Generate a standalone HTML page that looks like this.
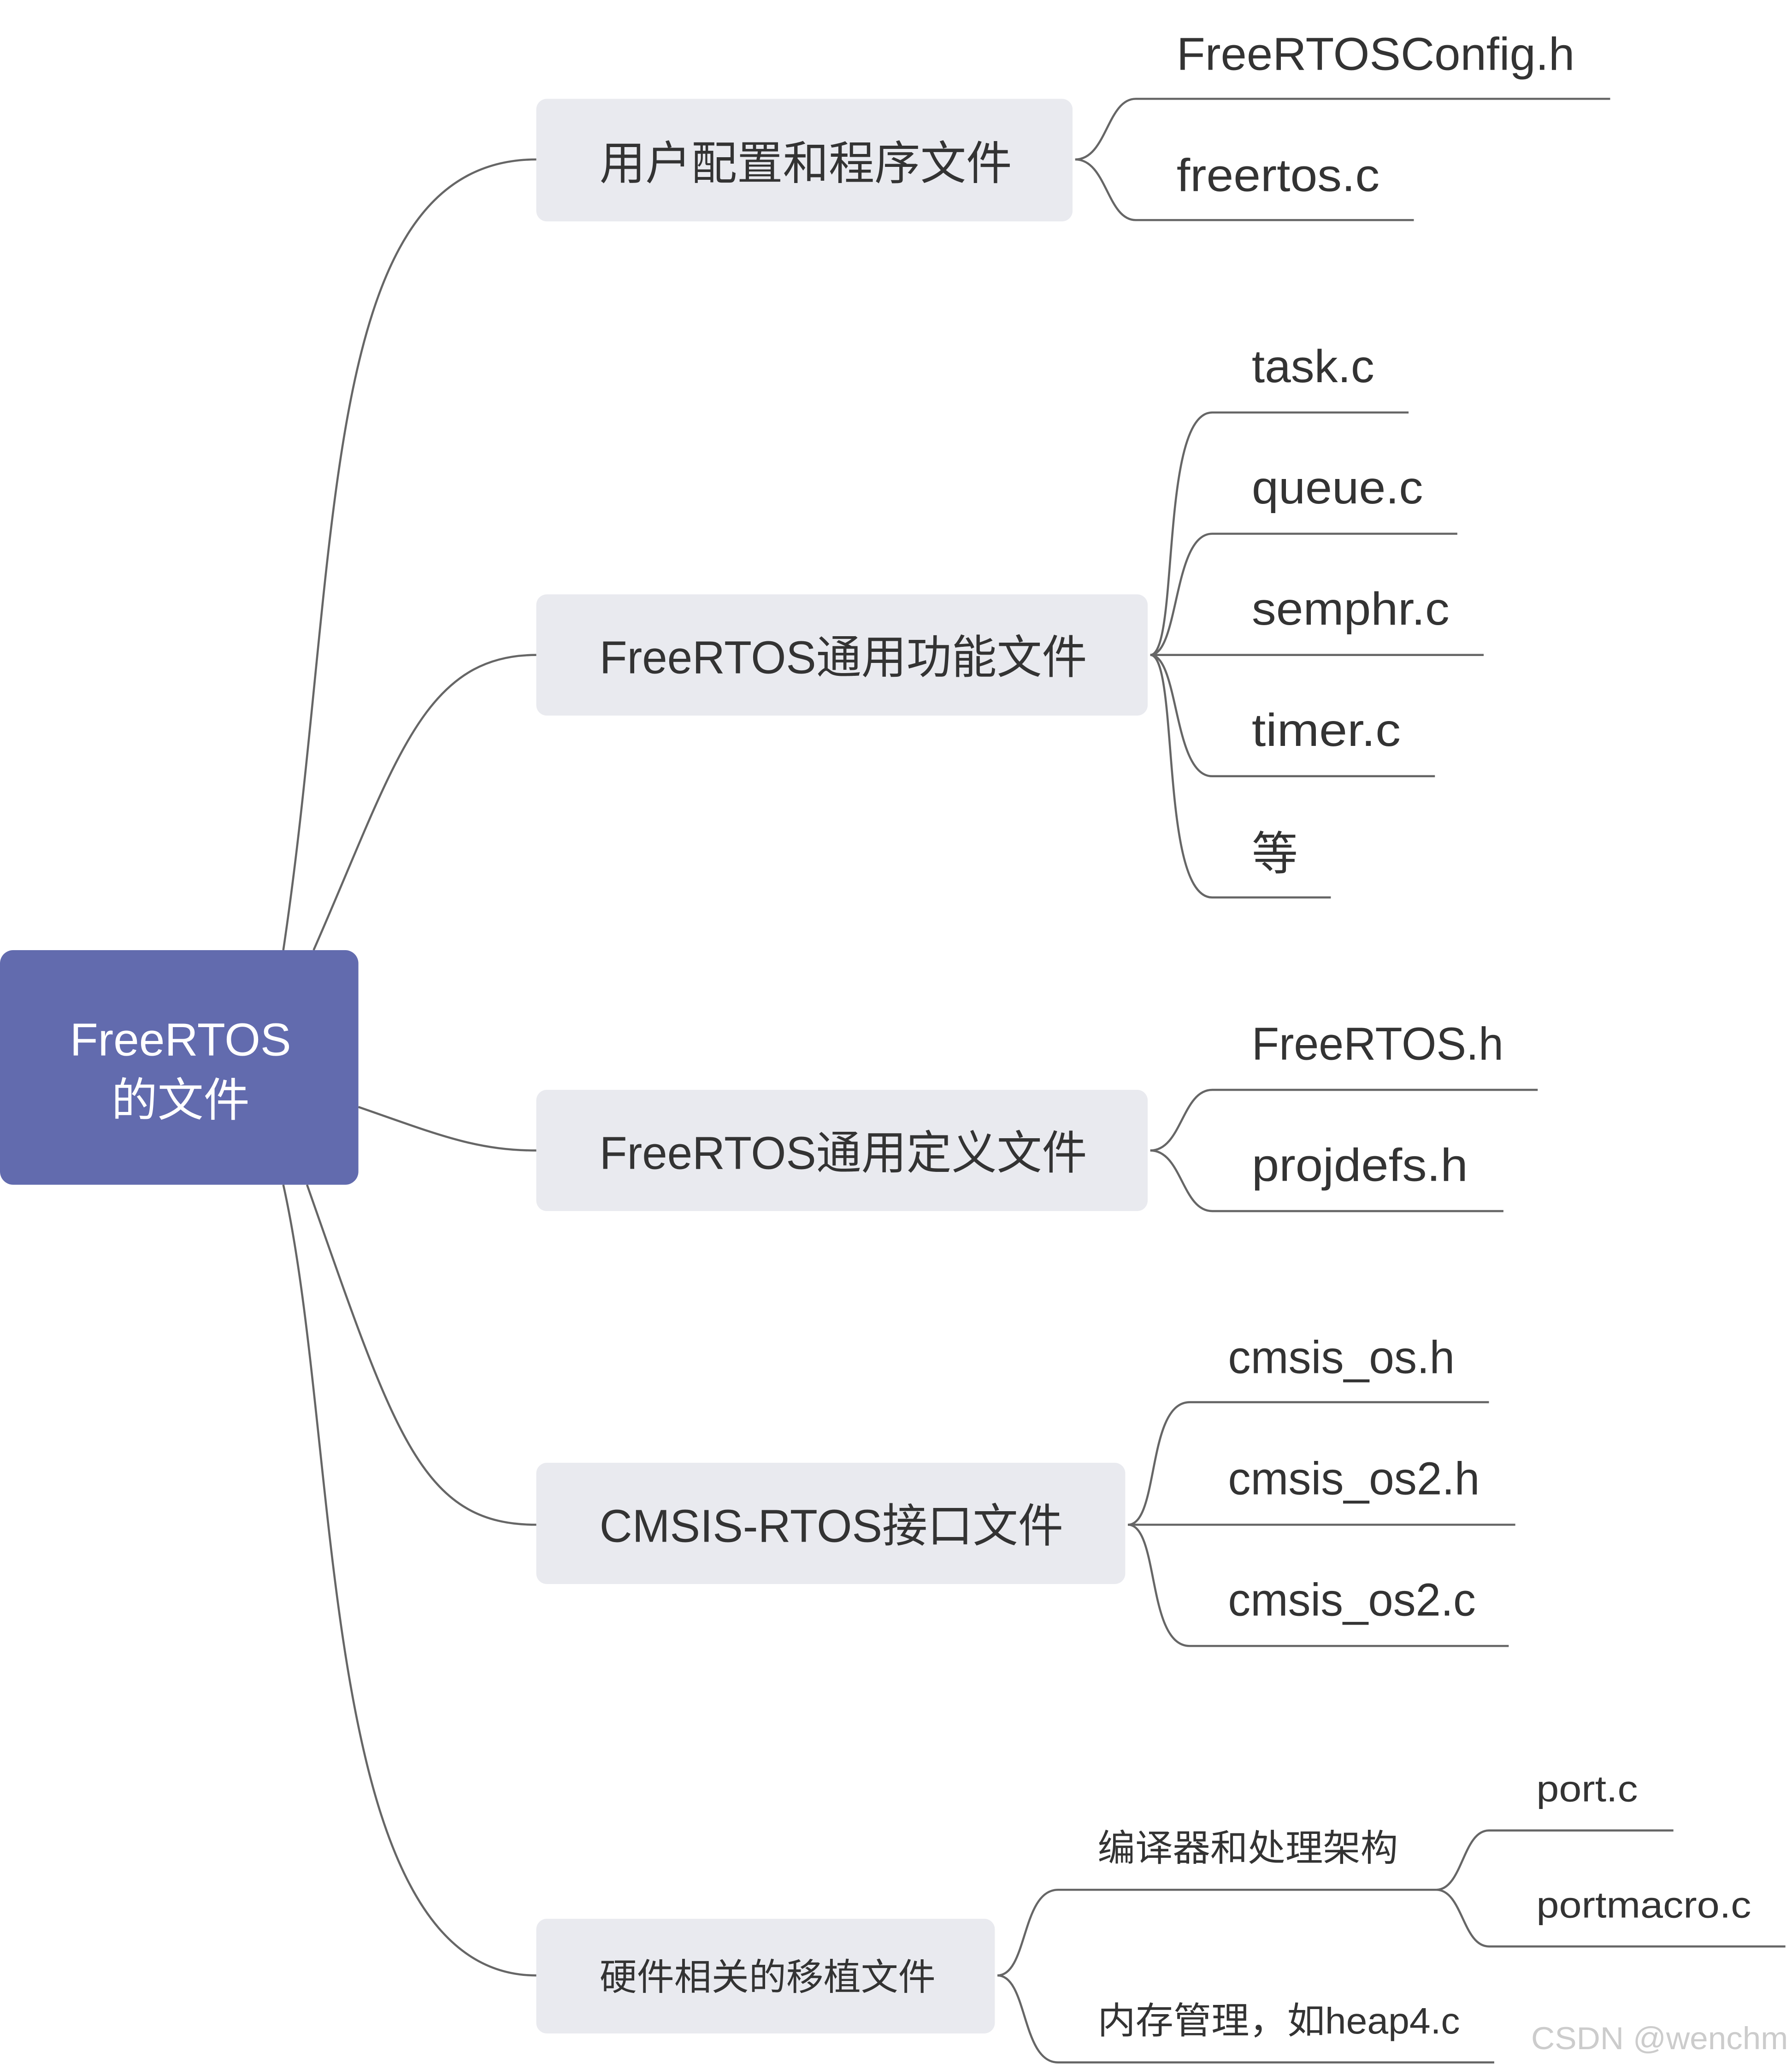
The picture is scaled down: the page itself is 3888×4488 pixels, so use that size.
<!DOCTYPE html>
<html><head><meta charset="utf-8">
<style>
html,body{margin:0;padding:0;background:#fff;}
svg{display:block;}
text{font-family:"Liberation Sans","Noto Sans CJK SC",sans-serif;fill:#333;}
</style></head>
<body>
<svg width="3888" height="4488" viewBox="0 0 1360 1570" preserveAspectRatio="none" xmlns="http://www.w3.org/2000/svg">
<rect width="1360" height="1570" fill="#fff"/>
<g fill="none" stroke="#666" stroke-width="1.6">
<!-- root connectors -->
<path d="M215,721 C260,420 240,121 407,121"/>
<path d="M238,721 C300,580 320,497 407,497"/>
<path d="M272,840 C330,860 360,873 407,873"/>
<path d="M233,899 C300,1090 320,1157 407,1157"/>
<path d="M215,899 C260,1100 240,1499 407,1499"/>
<!-- branch 1 -->
<path d="M816,121 C840,121 840,75 862,75 L1222,75"/>
<path d="M816,121 C840,121 840,167 862,167 L1073,167"/>
<!-- branch 2 -->
<path d="M873,497 C895,497 880,313 920,313 L1069,313"/>
<path d="M873,497 C895,497 890,405 920,405 L1106,405"/>
<path d="M873,497 L1126,497"/>
<path d="M873,497 C895,497 890,589 920,589 L1089,589"/>
<path d="M873,497 C895,497 880,681 920,681 L1010,681"/>
<!-- branch 3 -->
<path d="M873,873 C897,873 897,827 920,827 L1167,827"/>
<path d="M873,873 C897,873 897,919 920,919 L1141,919"/>
<!-- branch 4 -->
<path d="M856,1157 C880,1157 870,1064 903,1064 L1130,1064"/>
<path d="M856,1157 L1150,1157"/>
<path d="M856,1157 C880,1157 870,1249 903,1249 L1145,1249"/>
<!-- branch 5 -->
<path d="M757,1499 C780,1499 775,1434 803,1434 L1090,1434"/>
<path d="M757,1499 C780,1499 775,1565 803,1565 L1134,1565"/>
<path d="M1090,1434 C1110,1434 1110,1389 1130,1389 L1270,1389"/>
<path d="M1090,1434 C1110,1434 1110,1477 1130,1477 L1355,1477"/>
</g>
<!-- root -->
<rect x="0" y="721" width="272" height="178" rx="10" fill="#626BAE"/>
<text x="137" y="801" font-size="35" text-anchor="middle" style="fill:#fff">FreeRTOS</text>
<text x="137" y="847" font-size="35" text-anchor="middle" style="fill:#fff">的文件</text>
<!-- branch boxes -->
<rect x="407" y="75" width="407" height="93" rx="8" fill="#E9EAEF"/>
<rect x="407" y="451" width="464" height="92" rx="8" fill="#E9EAEF"/>
<rect x="407" y="827" width="464" height="92" rx="8" fill="#E9EAEF"/>
<rect x="407" y="1110" width="447" height="92" rx="8" fill="#E9EAEF"/>
<rect x="407" y="1456" width="348" height="87" rx="8" fill="#E9EAEF"/>
<text x="455" y="136" font-size="35" textLength="313" lengthAdjust="spacingAndGlyphs">用户配置和程序文件</text>
<text x="455" y="511" font-size="35" textLength="370" lengthAdjust="spacingAndGlyphs">FreeRTOS通用功能文件</text>
<text x="455" y="887" font-size="35" textLength="370" lengthAdjust="spacingAndGlyphs">FreeRTOS通用定义文件</text>
<text x="455" y="1170" font-size="35" textLength="352" lengthAdjust="spacingAndGlyphs">CMSIS-RTOS接口文件</text>
<text x="455" y="1510" font-size="28" textLength="255" lengthAdjust="spacingAndGlyphs">硬件相关的移植文件</text>
<!-- leaves -->
<text x="893" y="53" font-size="35" textLength="302" lengthAdjust="spacingAndGlyphs">FreeRTOSConfig.h</text>
<text x="893" y="145" font-size="35" textLength="154" lengthAdjust="spacingAndGlyphs">freertos.c</text>
<text x="950" y="290" font-size="35" textLength="93" lengthAdjust="spacingAndGlyphs">task.c</text>
<text x="950" y="382" font-size="35" textLength="130" lengthAdjust="spacingAndGlyphs">queue.c</text>
<text x="950" y="474" font-size="35" textLength="150" lengthAdjust="spacingAndGlyphs">semphr.c</text>
<text x="950" y="566" font-size="35" textLength="113" lengthAdjust="spacingAndGlyphs">timer.c</text>
<text x="950" y="660" font-size="35">等</text>
<text x="950" y="804" font-size="35" textLength="191" lengthAdjust="spacingAndGlyphs">FreeRTOS.h</text>
<text x="950" y="896" font-size="35" textLength="164" lengthAdjust="spacingAndGlyphs">projdefs.h</text>
<text x="932" y="1042" font-size="35" textLength="172" lengthAdjust="spacingAndGlyphs">cmsis_os.h</text>
<text x="932" y="1134" font-size="35" textLength="191" lengthAdjust="spacingAndGlyphs">cmsis_os2.h</text>
<text x="932" y="1226" font-size="35" textLength="188" lengthAdjust="spacingAndGlyphs">cmsis_os2.c</text>
<text x="833" y="1412" font-size="28" textLength="228" lengthAdjust="spacingAndGlyphs">编译器和处理架构</text>
<text x="833" y="1543" font-size="28" textLength="275" lengthAdjust="spacingAndGlyphs">内存管理，如heap4.c</text>
<text x="1166" y="1367" font-size="28" textLength="77" lengthAdjust="spacingAndGlyphs">port.c</text>
<text x="1166" y="1455" font-size="28" textLength="163" lengthAdjust="spacingAndGlyphs">portmacro.c</text>
<text x="1162" y="1555" font-size="24" style="fill:#ccc" textLength="195" lengthAdjust="spacingAndGlyphs">CSDN @wenchm</text>
</svg>
</body></html>
